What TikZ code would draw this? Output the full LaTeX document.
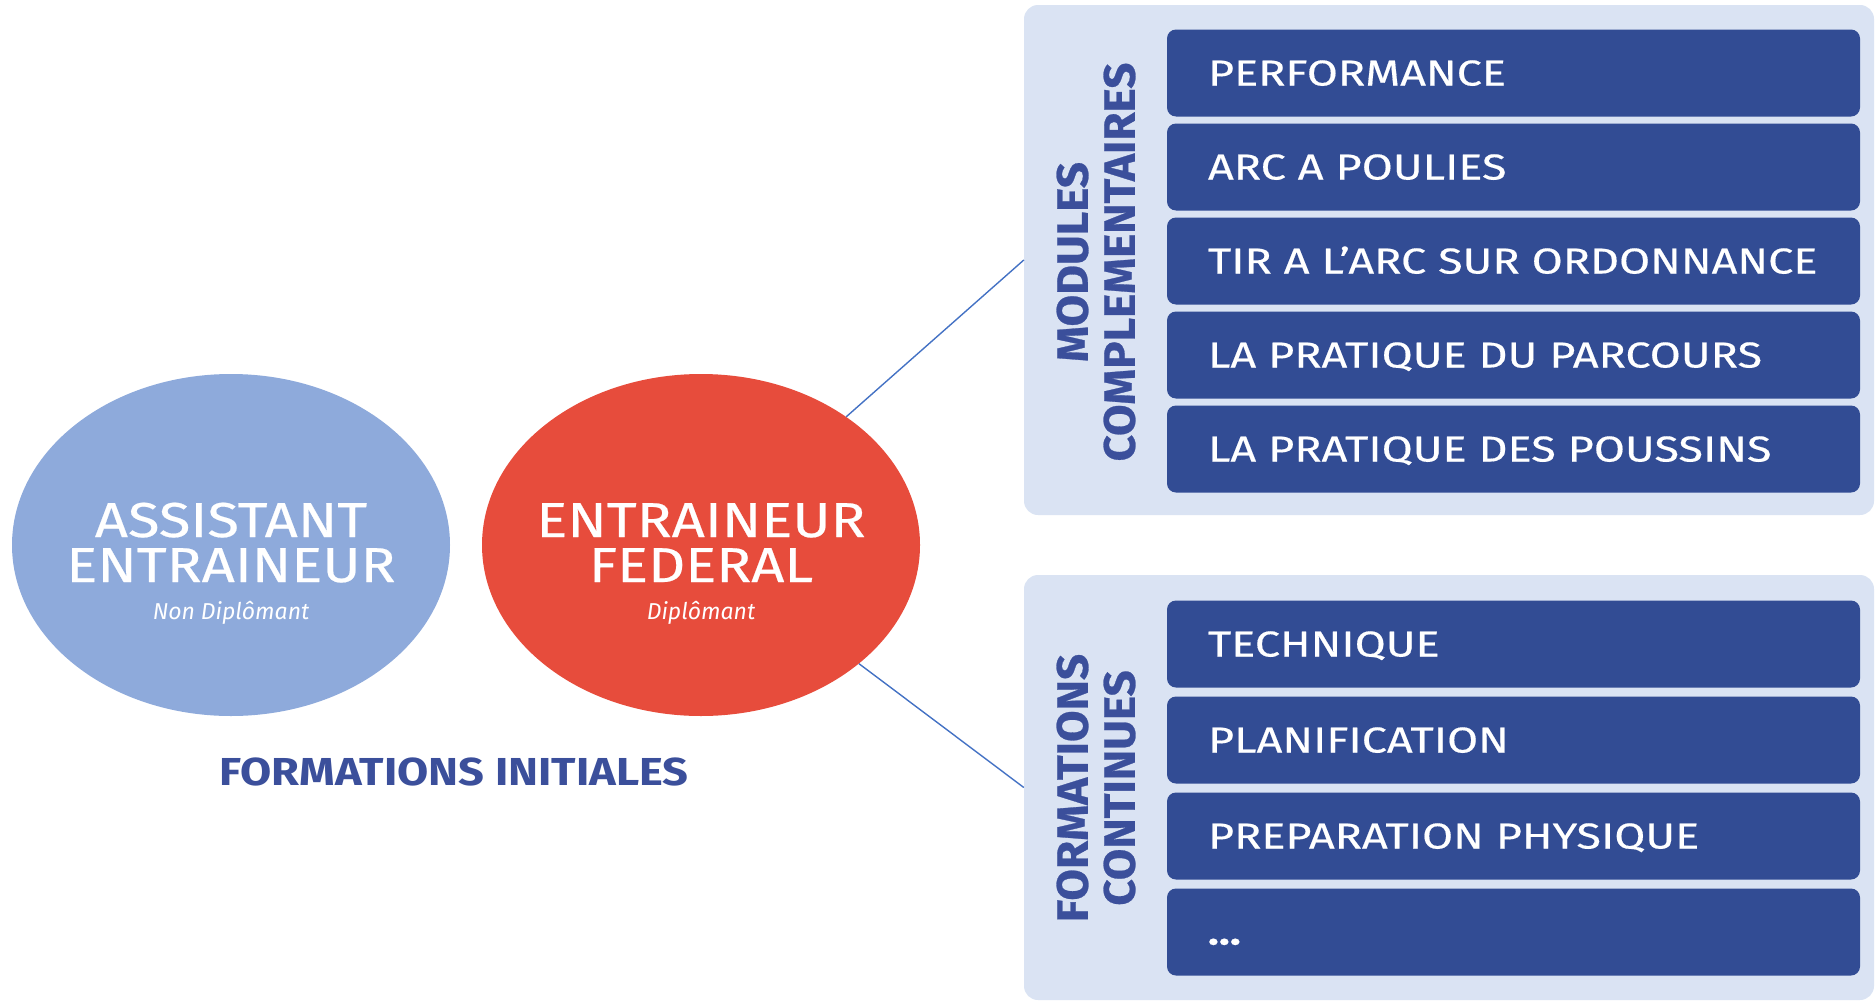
\documentclass[tikz,border=0pt]{standalone}
\usepackage{fontspec}
\setmainfont{Fira Sans}
\newfontfamily\widefont[FakeStretch=1.18,FakeBold=0.4]{Fira Sans}
\newfontfamily\modfont[FakeStretch=1.25,FakeBold=0.4]{Fira Sans}
\newfontfamily\headfont[FakeStretch=1.16]{Fira Sans}
\newfontfamily\sidefont[FakeStretch=1.04,FakeBold=0.6]{Fira Sans}
\usetikzlibrary{positioning,shapes.geometric}

\definecolor{panelblue}{HTML}{DAE3F3}
\definecolor{boxblue}{HTML}{324C94}
\definecolor{labelblue}{HTML}{3B4F9B}
\definecolor{assblue}{HTML}{8EAADB}
\definecolor{fedred}{HTML}{E74C3C}
\definecolor{linkblue}{HTML}{4472C4}

\begin{document}
\begin{tikzpicture}[x=1pt,y=-1pt,
	panel/.style={fill=panelblue,rounded corners=14pt,minimum width=850pt,inner sep=0pt},
	module/.style={fill=boxblue,rounded corners=9pt,minimum width=693pt,minimum height=87pt,
		inner xsep=41pt,text width=611pt,text height=25pt,text depth=0pt,align=left,
		text=white,font=\modfont\fontsize{36}{40}\selectfont},
	grouplabel/.style={rotate=90,align=center,text=labelblue,
		font=\sidefont\bfseries\fontsize{44}{47}\selectfont},
	ring/.style={ellipse,minimum width=438pt,minimum height=342pt,inner sep=0pt},
	ringtitle/.style={anchor=base,text=white,inner sep=0pt,font=\widefont\fontsize{49}{50}\selectfont},
	ringsub/.style={anchor=base,text=white,inner sep=0pt,font=\itshape\fontsize{23}{24}\selectfont},
	link/.style={linkblue,line width=1.4pt}]
	\useasboundingbox (0,0) rectangle (1876,1001);

	% formations initiales
	\node[ring,fill=assblue] (asst) at (231,545) {};
	\node[ring,fill=fedred] (fed) at (701,545) {};
	\node[ringtitle] (asst1) at (231,537) {ASSISTANT};
	\node[ringtitle] (asst2) at (231,582) {ENTRAINEUR};
	\node[ringsub] (asst3) at (231,619) {Non Diplômant};
	\node[ringtitle] (fed1) at (701,537) {ENTRAINEUR};
	\node[ringtitle] (fed2) at (701,582) {FEDERAL};
	\node[ringsub] (fed3) at (701,619) {Diplômant};
	\node[anchor=base,inner sep=0pt,text=labelblue,font=\headfont\bfseries\fontsize{39}{40}\selectfont] (init) at (454,785) {FORMATIONS INITIALES};

	% modules complementaires
	\node[panel,minimum height=510pt] (modpanel) at (1449,260) {};
	\foreach \txt [count=\i from 0] in {PERFORMANCE,ARC A POULIES,TIR A L’ARC SUR ORDONNANCE,LA PRATIQUE DU PARCOURS,LA PRATIQUE DES POUSSINS}
		\node[module] (mod\i) at (1513.5,{73+94*\i}) {\txt};
	\node[grouplabel] (modlabel) at (1096,262) {MODULES\\COMPLEMENTAIRES};

	% formations continues
	\node[panel,minimum height=425pt] (contpanel) at (1449,787.5) {};
	\foreach \txt [count=\i from 0] in {TECHNIQUE,PLANIFICATION,PREPARATION PHYSIQUE}
		\node[module] (cont\i) at (1513.5,{644+96*\i}) {\txt};
	\node[module] (cont3) at (1513.5,932) {\textbf{\ldots}};
	\node[grouplabel] (contlabel) at (1096,788) {FORMATIONS\\CONTINUES};

	\draw[link] (fed) -- (modpanel.west);
	\draw[link] (fed) -- (contpanel.west);
\end{tikzpicture}
\end{document}
